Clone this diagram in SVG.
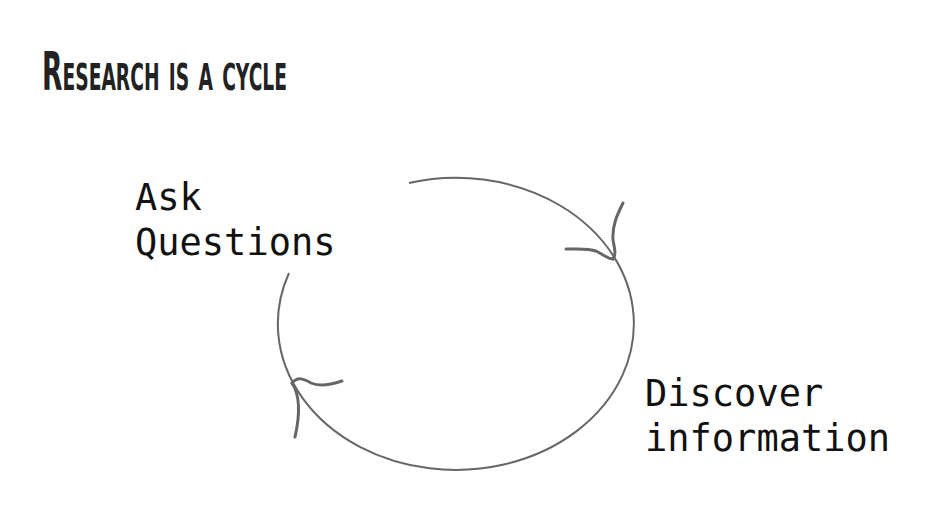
<svg xmlns="http://www.w3.org/2000/svg" width="936" height="528" viewBox="0 0 936 528">
<style>
.title{font-family:"DejaVu Sans Condensed","Liberation Sans Narrow","Liberation Sans",sans-serif;font-weight:bold;fill:#222;font-size:54px;font-variant:small-caps}
.lbl{font-family:"DejaVu Sans Mono","Liberation Mono",monospace;font-size:37px;fill:#111}
.cyc{fill:none;stroke:#666;stroke-width:2}
.head{fill:none;stroke:#666;stroke-width:3;stroke-linecap:round}
</style>
<rect width="936" height="528" fill="#fff"/>
<text class="title" x="42" y="90" textLength="245" lengthAdjust="spacingAndGlyphs">Research is a cycle</text>
<g id="connectors">
<path class="cyc" d="M409,183 A178,146 0 1,1 289,273"/>
<path class="head" d="M566,249 C578,249 588,248 596,251 C604,255 608,259 613,259"/>
<path class="head" d="M623,203 C617,215 612,226 613,240 C615,250 616,255 613,259"/>
<path class="head" d="M342,381 C330,385 320,387 311,383 C304,379 298,376 292,383"/>
<path class="head" d="M292,383 C300,395 300,415 295,437"/>
</g>
<g id="node-ask">
<text class="lbl" x="135" y="210">Ask</text>
<text class="lbl" x="135" y="255">Questions</text>
</g>
<g id="node-discover">
<text class="lbl" x="645" y="406">Discover</text>
<text class="lbl" x="645" y="451">information</text>
</g>
</svg>
